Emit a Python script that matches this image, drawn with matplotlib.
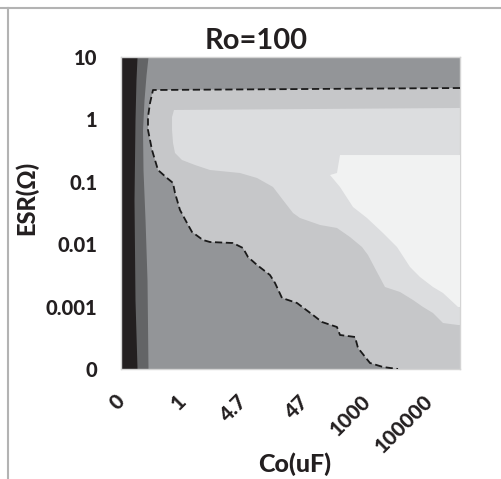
import matplotlib
matplotlib.use("Agg")
import matplotlib.pyplot as plt
from matplotlib.lines import Line2D

plt.rcParams["font.family"] = ["Lato", "DejaVu Sans"]

# Category axes: Co labels every unit, ESR labels every unit
co_labels = ["0", "1", "4.7", "47", "1000", "100000"]
esr_labels = ["0", "0.001", "0.01", "0.1", "1", "10"]
co_span = 5.5
esr_span = 5.0

# Band edges along the left side (Co position as a function of ESR position)
black_edge_esr = [0.0, 1.106, 2.708, 3.990, 4.631, 5.0]
black_edge_co = [0.260, 0.227, 0.211, 0.227, 0.243, 0.260]

mid_edge_esr = [0.0, 1.426, 2.388, 3.189, 3.830, 4.311, 4.712, 5.0]
mid_edge_co = [0.438, 0.422, 0.390, 0.357, 0.349, 0.373, 0.406, 0.438]

# Dashed contour (outer edge of the light region)
contour_co = [5.5, 0.519, 0.471, 0.438, 0.438, 0.503, 0.600, 0.746, 0.844,
              0.876, 0.957, 1.071, 1.152, 1.330, 1.444, 1.817, 1.979, 2.060,
              2.207, 2.417, 2.499, 2.612, 2.855, 3.115, 3.261, 3.504, 3.553,
              3.797, 3.845, 4.040, 4.251, 4.494]
contour_esr = [4.503, 4.471, 4.263, 4.038, 3.830, 3.510, 3.189, 3.061, 2.981,
               2.821, 2.548, 2.340, 2.196, 2.067, 2.035, 2.019, 1.939, 1.795,
               1.667, 1.506, 1.378, 1.138, 1.058, 0.865, 0.753, 0.673, 0.545,
               0.513, 0.337, 0.096, 0.032, 0.0]

# Lighter band edge
lighter_co = [5.5, 0.860, 0.828, 0.828, 0.844, 0.876, 0.990, 1.201, 1.444,
              1.931, 2.207, 2.466, 2.628, 2.791, 2.904, 3.229, 3.504, 3.715,
              3.910, 4.007, 4.153, 4.283, 4.527, 4.737, 4.900, 5.062, 5.224,
              5.468, 5.5]
lighter_esr = [4.183, 4.151, 4.038, 3.830, 3.622, 3.462, 3.349, 3.269, 3.189,
               3.141, 3.061, 2.917, 2.708, 2.500, 2.420, 2.308, 2.260, 2.115,
               1.955, 1.827, 1.554, 1.314, 1.234, 1.106, 0.994, 0.897, 0.737,
               0.705, 0.705]

# Lightest band edge
lightest_co = [5.5, 3.553, 3.504, 3.391, 3.553, 3.764, 3.991, 4.251, 4.478,
               4.689, 4.851, 5.062, 5.224, 5.468, 5.5]
lightest_esr = [3.429, 3.429, 3.141, 3.109, 2.917, 2.596, 2.420, 2.179, 1.955,
                1.635, 1.474, 1.314, 1.218, 0.994, 0.994]

colors = {
    "black": "#231f20",
    "dark": "#636466",
    "gray": "#939598",
    "light": "#c6c7c9",
    "lighter": "#dcdddf",
    "lightest": "#f1f2f2",
}
text_color = "#231f20"

W, H = 501, 479
fig = plt.figure(figsize=(W / 100, H / 100), dpi=100)
ax = fig.add_axes([121 / W, (H - 369) / H, 339 / W, 312 / H])
ax.set_facecolor(colors["gray"])
ax.set_xlim(0, co_span)
ax.set_ylim(0, esr_span)

# Left bands: dark strip first, black strip on top of it
ax.fill_betweenx(mid_edge_esr, 0, mid_edge_co, color=colors["dark"], lw=0,
                 zorder=0.5)
ax.fill_betweenx(black_edge_esr, 0, black_edge_co, color=colors["black"], lw=0,
                 zorder=0.6)

# Nested light regions
light_poly_co = contour_co + [5.5]
light_poly_esr = contour_esr + [0.0]
ax.fill(light_poly_co, light_poly_esr, color=colors["light"], lw=0, zorder=1)
ax.fill(lighter_co, lighter_esr, color=colors["lighter"], lw=0, zorder=2)
ax.fill(lightest_co, lightest_esr, color=colors["lightest"], lw=0, zorder=3)
ax.plot(contour_co, contour_esr, color="#1a1a1a", lw=1.3,
        dashes=(4, 2), zorder=4)

ax.set_xticks(range(len(co_labels)))
ax.set_xticklabels(co_labels, rotation=45, ha="right", va="center",
                   rotation_mode="anchor", fontsize=15, fontweight=900,
                   color=text_color)
ax.set_yticks(range(len(esr_labels)))
ax.set_yticklabels(esr_labels, fontsize=14.5, fontweight=900, color=text_color)
ax.tick_params(axis="x", length=0, pad=21)
ax.tick_params(axis="y", length=0, pad=17)
for s in ax.spines.values():
    s.set_color("#d4d4d4")
    s.set_linewidth(1.0)

fig.text(256 / W, 1 - 41 / H, "Ro=100", ha="center", va="center",
         fontsize=21, fontweight="bold", color=text_color)
fig.text(295 / W, 1 - 464 / H, "Co(uF)", ha="center", va="center",
         fontsize=18, fontweight=900, color=text_color)
fig.text(26 / W, 1 - 198 / H, "ESR(Ω)", ha="center", va="center",
         rotation=90, fontsize=17, fontweight=900, color=text_color)

# Outer frame lines
fig.add_artist(Line2D([0, 1], [1 - 8 / H, 1 - 8 / H], color="#b3b3b3", lw=1.5,
                      transform=fig.transFigure))
fig.add_artist(Line2D([8 / W, 8 / W], [0, 1 - 8 / H], color="#b3b3b3", lw=1.5,
                      transform=fig.transFigure))

fig.savefig("out.png", dpi=100)
